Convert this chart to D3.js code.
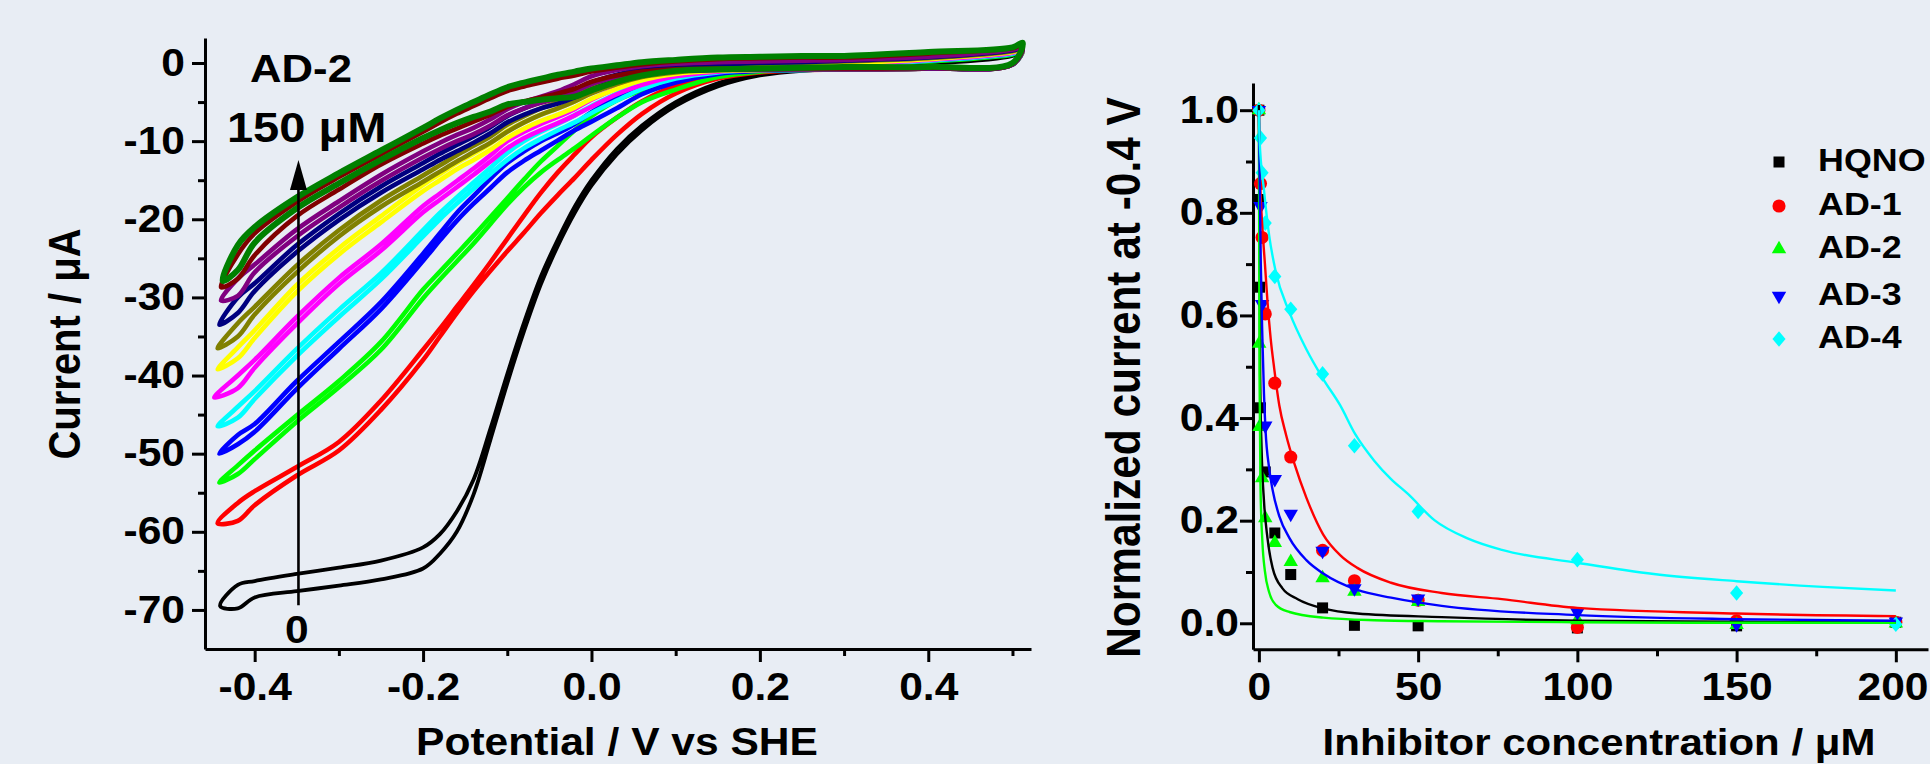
<!DOCTYPE html>
<html>
<head>
<meta charset="utf-8">
<script src="https://cdn.jsdelivr.net/npm/d3@7"></script>
<style>
  html, body { margin: 0; padding: 0; background: #e8edf4; }
  svg { display: block; }
  text { font-family: "Liberation Sans", Arial, sans-serif; font-weight: bold; fill: #000; }
</style>
</head>
<body>
<svg id="chart" width="1930" height="764"></svg>
<script>
// ---------- left panel: cyclic voltammograms (AD-2, 0 -> 150 uM) ----------
const potential = [-0.42, -0.40, -0.35, -0.30, -0.25, -0.20, -0.18, -0.16, -0.14, -0.12, -0.10, -0.08, -0.06,
                   -0.04, -0.02, 0.00, 0.03, 0.06, 0.10, 0.15, 0.20, 0.25, 0.30, 0.40, 0.50];

const blackHi = [-66.8, -66.3, -65.4, -64.6, -63.7, -62.0, -60.3, -57.4, -53.3, -46.8, -39.8, -33.2, -27.3, -22.6, -18.4, -15.0, -11.0, -8.0, -5.0, -2.6, -1.3, -0.7, -0.4, -0.1, 0.9];
const blackLo = [-69.8, -68.4, -67.6, -66.9, -66.1, -64.7, -62.8, -60.0, -55.2, -48.2, -41.0, -34.3, -28.3, -23.4, -19.2, -15.7, -11.7, -8.6, -5.5, -3.0, -1.6, -1.0, -0.8, -0.7, -0.1];
const redHi = [-56.3, -54.8, -51.7, -48.5, -43.2, -36.7, -34.0, -31.2, -28.4, -25.5, -22.5, -19.5, -16.6, -14.0, -11.7, -9.5, -7.0, -4.9, -2.9, -1.6, -0.9, -0.5, -0.2, 0.3, 1.2];
const redLo = [-58.6, -56.6, -52.8, -49.6, -44.4, -38.0, -35.0, -32.0, -29.2, -26.6, -24.1, -21.7, -19.2, -16.9, -14.7, -12.4, -9.2, -6.5, -3.9, -2.0, -1.2, -0.9, -0.8, -0.7, -0.2];
const greenHi = [-51.5, -49.6, -45.1, -40.7, -35.7, -29.0, -26.7, -24.4, -22.1, -19.7, -17.3, -14.9, -12.6, -10.6, -8.6, -6.8, -4.8, -3.5, -2.3, -1.3, -0.8, -0.5, -0.3, 0.2, 1.1];
const greenLo = [-52.6, -50.7, -45.9, -41.5, -36.7, -30.1, -27.7, -25.4, -23.1, -20.6, -18.1, -15.9, -14.0, -12.4, -10.9, -9.3, -7.0, -5.0, -3.4, -1.8, -1.1, -0.9, -0.8, -0.7, -0.2];
const blueHi = [-47.6, -46.2, -40.7, -35.7, -30.6, -24.4, -21.8, -19.2, -17.0, -14.8, -12.8, -11.3, -10.0, -9.0, -7.8, -6.3, -4.4, -2.9, -1.8, -1.1, -0.7, -0.4, -0.2, 0.3, 1.2];
const blueLo = [-48.8, -47.2, -41.7, -36.6, -31.5, -25.3, -22.7, -20.2, -18.0, -16.0, -14.0, -12.5, -11.2, -9.9, -8.6, -7.5, -5.8, -4.0, -2.5, -1.4, -1.0, -0.9, -0.8, -0.7, -0.2];
const cyanHi = [-44.0, -42.0, -36.6, -31.6, -26.9, -21.4, -19.2, -17.2, -15.3, -13.4, -11.5, -10.0, -8.8, -7.8, -6.7, -5.5, -3.9, -2.4, -1.5, -0.9, -0.6, -0.4, -0.2, 0.3, 1.2];
const cyanLo = [-45.4, -43.0, -37.5, -32.5, -27.7, -22.2, -20.0, -18.0, -16.1, -14.2, -12.4, -10.9, -9.7, -8.6, -7.6, -6.4, -4.8, -3.3, -2.0, -1.2, -0.9, -0.9, -0.8, -0.7, -0.2];
const magentaHi = [-40.0, -38.0, -32.5, -27.5, -23.2, -18.3, -16.7, -15.1, -13.5, -11.8, -10.0, -8.8, -7.8, -6.9, -5.9, -4.7, -3.2, -2.0, -1.2, -0.8, -0.5, -0.3, -0.1, 0.4, 1.3];
const magentaLo = [-41.6, -39.0, -33.4, -28.3, -24.0, -19.1, -17.5, -15.9, -14.3, -12.6, -10.9, -9.6, -8.6, -7.7, -6.7, -5.6, -4.0, -2.8, -1.7, -1.1, -0.9, -0.8, -0.8, -0.7, -0.2];
const yellowHi = [-36.4, -34.2, -28.4, -23.7, -19.6, -15.6, -14.2, -12.8, -11.6, -10.3, -8.7, -7.6, -6.6, -5.8, -4.9, -3.8, -2.6, -1.6, -1.0, -0.6, -0.4, -0.2, 0.0, 0.5, 1.4];
const yellowLo = [-37.8, -35.2, -29.3, -24.5, -20.4, -16.4, -15.0, -13.6, -12.4, -11.1, -9.6, -8.4, -7.4, -6.6, -5.7, -4.6, -3.3, -2.2, -1.4, -1.0, -0.9, -0.8, -0.8, -0.7, -0.2];
const oliveHi = [-33.3, -31.2, -25.9, -21.4, -17.6, -14.4, -13.1, -11.8, -10.6, -9.4, -7.9, -6.8, -5.8, -5.0, -4.1, -3.1, -2.0, -1.2, -0.7, -0.4, -0.2, 0.0, 0.2, 0.6, 1.5];
const oliveLo = [-35.0, -32.2, -26.8, -22.2, -18.4, -15.2, -13.9, -12.6, -11.4, -10.2, -8.8, -7.6, -6.6, -5.8, -4.9, -3.9, -2.7, -1.8, -1.2, -0.9, -0.9, -0.8, -0.8, -0.7, -0.2];
const navyHi = [-30.0, -28.2, -23.3, -19.3, -15.8, -12.8, -11.6, -10.5, -9.4, -8.2, -6.8, -5.8, -5.0, -4.4, -3.6, -2.5, -1.5, -0.8, -0.4, -0.2, 0.0, 0.1, 0.3, 0.7, 1.6];
const navyLo = [-32.0, -29.2, -24.2, -20.1, -16.6, -13.6, -12.4, -11.3, -10.2, -9.0, -7.6, -6.6, -5.8, -5.2, -4.4, -3.4, -2.3, -1.5, -1.0, -0.9, -0.8, -0.8, -0.8, -0.7, -0.2];
const purpleHi = [-27.6, -25.8, -21.3, -17.7, -14.3, -11.3, -10.2, -9.2, -8.3, -7.2, -5.9, -5.0, -4.3, -3.6, -2.7, -1.7, -0.9, -0.4, -0.1, 0.1, 0.2, 0.3, 0.4, 0.8, 1.7];
const purpleLo = [-29.8, -26.8, -22.2, -18.5, -15.1, -12.1, -11.0, -10.0, -9.1, -8.0, -6.7, -5.8, -5.1, -4.5, -3.7, -2.7, -1.8, -1.2, -0.9, -0.8, -0.8, -0.8, -0.8, -0.7, -0.2];
const wineHi = [-24.5, -21.8, -17.8, -14.6, -11.7, -8.8, -7.6, -6.5, -5.5, -4.5, -3.6, -3.0, -2.5, -2.0, -1.6, -1.1, -0.6, -0.2, 0.2, 0.5, 0.6, 0.7, 0.7, 1.2, 1.9];
const wineLo = [-27.6, -24.6, -19.6, -16.2, -13.0, -10.3, -9.3, -8.4, -7.5, -6.6, -5.6, -4.9, -4.4, -3.9, -3.3, -2.4, -1.6, -1.1, -0.8, -0.7, -0.7, -0.7, -0.7, -0.6, -0.1];
const dkgreenHi = [-23.3, -21.0, -17.2, -14.1, -11.2, -8.3, -7.1, -6.0, -5.0, -4.0, -3.1, -2.5, -2.0, -1.5, -1.1, -0.7, -0.3, 0.1, 0.4, 0.7, 0.8, 0.9, 0.9, 1.4, 2.0];
const dkgreenLo = [-26.5, -23.0, -18.6, -15.4, -12.4, -9.6, -8.6, -7.7, -6.9, -6.2, -5.3, -5.0, -4.7, -4.5, -4.3, -3.5, -2.4, -1.6, -1.0, -0.8, -0.7, -0.6, -0.5, -0.5, 0.0];

const cvColors = ["#000000", "#ff0000", "#00ff00", "#0000ff", "#00ffff", "#ff00ff",
                  "#ffff00", "#808000", "#000080", "#800080", "#800000", "#008000"];
const cvHi = [blackHi, redHi, greenHi, blueHi, cyanHi, magentaHi, yellowHi, oliveHi, navyHi, purpleHi, wineHi, dkgreenHi];
const cvLo = [blackLo, redLo, greenLo, blueLo, cyanLo, magentaLo, yellowLo, oliveLo, navyLo, purpleLo, wineLo, dkgreenLo];
const tipLeftV = [-0.441, -0.444, -0.442, -0.442, -0.444, -0.448, -0.444, -0.444, -0.442, -0.440, -0.440, -0.438];
const tipLeftI = [-69.5, -58.9, -53.7, -50.0, -46.5, -42.8, -39.2, -36.5, -33.5, -30.4, -28.7, -27.9];
const tipRightV = 0.512;
const tipRightI = [1.6, 1.6, 1.6, 1.7, 1.7, 1.8, 1.8, 1.9, 1.9, 2.0, 2.2, 2.6];

const leftXMajor = [-0.4, -0.2, 0.0, 0.2, 0.4];
const leftXMinor = [-0.3, -0.1, 0.1, 0.3, 0.5];
const leftYMajor = [0, -10, -20, -30, -40, -50, -60, -70];
const leftYMinor = [-5, -15, -25, -35, -45, -55, -65];

// arrow annotation (potential, from current, to current)
const arrowV = -0.348, arrowFrom = -69.4, arrowTo = -12.4;

// ---------- right panel: normalized current vs inhibitor concentration ----------
const seriesNames = ["HQNO", "AD-1", "AD-2", "AD-3", "AD-4"];
const seriesColors = ["#000000", "#ff0000", "#00ff00", "#0000ff", "#00ffff"];

const hqnoConc = [0, 0.1, 0.2, 0.5, 2, 5, 10, 20, 30, 50, 100, 150, 200];
const hqnoVal  = [1.0, 0.826, 0.655, 0.42, 0.295, 0.176, 0.095, 0.030, -0.004, -0.005, -0.009, -0.005, 0.002];
const ad1Conc = [0, 0.5, 1, 2, 5, 10, 20, 30, 50, 100, 150, 200];
const ad1Val  = [1.0, 0.857, 0.752, 0.603, 0.468, 0.324, 0.142, 0.083, 0.045, -0.008, 0.005, 0.002];
const ad2Conc = [0, 0.1, 0.2, 1, 2, 5, 10, 20, 30, 50, 100, 150, 200];
const ad2Val  = [1.0, 0.545, 0.383, 0.283, 0.205, 0.157, 0.12, 0.088, 0.062, 0.042, 0.006, -0.003, 0.0];
const ad3Conc = [0, 0.5, 1, 2, 5, 10, 20, 30, 50, 100, 150, 200];
const ad3Val  = [1.0, 0.813, 0.622, 0.385, 0.281, 0.213, 0.141, 0.068, 0.048, 0.021, -0.002, 0.003];
const ad4Conc = [0, 0.5, 1, 2, 5, 10, 20, 30, 50, 100, 150, 200];
const ad4Val  = [1.0, 0.946, 0.878, 0.78, 0.676, 0.612, 0.486, 0.346, 0.218, 0.124, 0.059, -0.002];

// fitted curves
const hqnoFitC = [0, 0.2, 0.4, 0.85, 1.6, 2.7, 4.3, 7.4, 12.2, 20.2, 30.9, 57.4, 100, 150, 200];
const hqnoFitV = [1.01, 0.771, 0.483, 0.339, 0.238, 0.166, 0.108, 0.068, 0.047, 0.029, 0.019, 0.012, 0.005, 0.003, 0.002];
const ad1FitC = [0, 0.2, 0.5, 1.1, 1.9, 2.7, 3.7, 4.8, 6.4, 8.5, 11.2, 14.9, 20.2, 25.5, 30.9, 41.5, 57.4, 76.3, 100, 150, 200];
const ad1FitV = [1.0, 0.916, 0.844, 0.771, 0.70, 0.627, 0.555, 0.497, 0.425, 0.368, 0.31, 0.245, 0.173, 0.133, 0.108, 0.079, 0.059, 0.047, 0.030, 0.019, 0.014];
const ad2FitC = [0, 0.2, 0.5, 1.1, 1.9, 3.2, 5.3, 9.6, 20.2, 36.2, 57.4, 100, 150, 200];
const ad2FitV = [1.0, 0.483, 0.267, 0.159, 0.101, 0.061, 0.036, 0.022, 0.011, 0.006, 0.004, 0.002, 0.001, 0.001];
const ad3FitC = [0, 0.3, 0.6, 1.1, 1.6, 2.1, 3.2, 4.3, 6.4, 9.6, 14.9, 20.2, 30.9, 41.5, 57.4, 100, 150, 200];
const ad3FitV = [1.0, 0.844, 0.70, 0.555, 0.447, 0.375, 0.303, 0.26, 0.209, 0.166, 0.123, 0.097, 0.065, 0.05, 0.034, 0.016, 0.008, 0.005];
const ad4FitC = [0, 0.2, 1.6, 3.2, 5.3, 9.6, 14.9, 20.2, 25.5, 30.3, 36.2, 41.5, 46.8, 55.1, 65.7, 76.3, 100, 124, 150, 177, 200];
const ad4FitV = [1.0, 0.944, 0.844, 0.757, 0.685, 0.606, 0.534, 0.476, 0.425, 0.368, 0.317, 0.281, 0.252, 0.201, 0.165, 0.143, 0.118, 0.096, 0.082, 0.071, 0.064];

const rightXMajor = [0, 50, 100, 150, 200];
const rightXMinor = [25, 75, 125, 175];
const rightYMajor = [0, 0.2, 0.4, 0.6, 0.8, 1.0];
const rightYMinor = [0.1, 0.3, 0.5, 0.7, 0.9];

// ---------- drawing ----------
const STRETCH = 1.12;   // the figure's lettering is a bit wide
const svg = d3.select("#chart");

const xL = d3.scaleLinear().domain([-0.459, 0.522]).range([205, 1031]);
const yL = d3.scaleLinear().domain([-75, 3.2]).range([649, 38]);
const xR = d3.scaleLinear().domain([-1.85, 210.1]).range([1253, 1928]);
const yR = d3.scaleLinear().domain([-0.0507, 1.053]).range([649.3, 83]);

function addText(str, x, y, size, anchor, rot) {
  return svg.append("text")
    .attr("transform", "translate(" + x + "," + y + ") scale(" + STRETCH + ",1)" + (rot ? " rotate(" + rot + ")" : ""))
    .attr("text-anchor", anchor)
    .style("font-size", size + "px")
    .text(str);
}

function drawAxis(axisMaj, axisMin, pos) {
  const gMin = svg.append("g").attr("transform", pos).call(axisMin);
  gMin.select(".domain").remove();
  gMin.selectAll(".tick line").attr("stroke", "#000").attr("stroke-width", 3);
  const g = svg.append("g").attr("transform", pos).call(axisMaj);
  g.attr("font-size", null).attr("font-family", null);
  g.select(".domain").attr("stroke", "#000").attr("stroke-width", 3);
  g.selectAll(".tick line").attr("stroke", "#000").attr("stroke-width", 3);
  g.selectAll(".tick text").style("font-size", "38px").attr("fill", "#000").each(function() {
    const t = d3.select(this);
    t.attr("x", (+t.attr("x") || 0) / STRETCH).attr("transform", "scale(" + STRETCH + ",1)");
  });
  return g;
}

const fmt1 = d => d.toFixed(1);

// left axes
drawAxis(d3.axisBottom(xL).tickValues(leftXMajor).tickFormat(fmt1).tickSize(13).tickSizeOuter(0).tickPadding(11),
         d3.axisBottom(xL).tickValues(leftXMinor).tickFormat("").tickSize(7).tickSizeOuter(0),
         "translate(0,649)");
drawAxis(d3.axisLeft(yL).tickValues(leftYMajor).tickFormat(d => String(d)).tickSize(13).tickSizeOuter(0).tickPadding(7),
         d3.axisLeft(yL).tickValues(leftYMinor).tickFormat("").tickSize(7).tickSizeOuter(0),
         "translate(205,0)");

// CV loops
const cvLine = d3.line().x(d => xL(d[0])).y(d => yL(d[1])).curve(d3.curveCatmullRomClosed.alpha(0.5));
cvColors.forEach((col, i) => {
  const pts = [[tipRightV, tipRightI[i]]];
  for (let k = potential.length - 1; k >= 0; k--) pts.push([potential[k], cvLo[i][k]]);
  pts.push([tipLeftV[i], tipLeftI[i]]);
  for (let k = 0; k < potential.length; k++) pts.push([potential[k], cvHi[i][k]]);
  const w = i === 0 ? 3.8 : (i === cvColors.length - 1 ? 6 : 4.6);
  svg.append("path")
    .attr("d", cvLine(pts))
    .attr("fill", "none")
    .attr("stroke", col)
    .attr("stroke-width", w)
    .attr("stroke-linejoin", "round");
});

// arrow
const ax = xL(arrowV), aTip = yL(arrowTo);
svg.append("line").attr("x1", ax).attr("x2", ax).attr("y1", yL(arrowFrom)).attr("y2", aTip + 25)
  .attr("stroke", "#000").attr("stroke-width", 2.6);
svg.append("path").attr("d", `M${ax},${aTip}L${ax - 8.5},${aTip + 30}L${ax + 8.5},${aTip + 30}Z`).attr("fill", "#000");

addText("AD-2", xL(-0.4055), yL(-2.45), 39, "start");
addText("150 \u03bcM", xL(-0.433), yL(-10.1), 42, "start");
addText("0", xL(-0.35), yL(-74.2), 38, "middle");

addText("Potential / V vs SHE", 617, 755, 38, "middle");
addText("Current / \u03bcA", 80, 344, 40, "middle", -90);

// right axes
const gRX = drawAxis(d3.axisBottom(xR).tickValues(rightXMajor).tickFormat(d => String(d)).tickSize(13).tickSizeOuter(0).tickPadding(11),
         d3.axisBottom(xR).tickValues(rightXMinor).tickFormat("").tickSize(7).tickSizeOuter(0),
         "translate(0,649.3)");
// keep the last label inside the page
gRX.selectAll(".tick text").filter(d => d === 200).attr("x", -3);
drawAxis(d3.axisLeft(yR).tickValues(rightYMajor).tickFormat(fmt1).tickSize(13).tickSizeOuter(0).tickPadding(1),
         d3.axisLeft(yR).tickValues(rightYMinor).tickFormat("").tickSize(7).tickSizeOuter(0),
         "translate(1253,0)");

const diamond = {
  draw(ctx, size) {
    const h = Math.sqrt(size / 0.84), w = h * 0.84;
    ctx.moveTo(0, -h / 2); ctx.lineTo(w / 2, 0); ctx.lineTo(0, h / 2); ctx.lineTo(-w / 2, 0); ctx.closePath();
  }
};
const symbols = [
  d3.symbol(d3.symbolSquare, 121),
  d3.symbol(d3.symbolCircle, 135),
  d3.symbol(d3.symbolTriangle, 90),
  d3.symbol(d3.symbolTriangle, 90),
  d3.symbol(diamond, 205)
];
const symRotate = [0, 0, 0, 180, 0];

const concs = [hqnoConc, ad1Conc, ad2Conc, ad3Conc, ad4Conc];
const vals = [hqnoVal, ad1Val, ad2Val, ad3Val, ad4Val];
const fitC = [hqnoFitC, ad1FitC, ad2FitC, ad3FitC, ad4FitC];
const fitV = [hqnoFitV, ad1FitV, ad2FitV, ad3FitV, ad4FitV];

seriesNames.forEach((name, i) => {
  svg.append("g").selectAll("path")
    .data(concs[i].map((c, k) => [c, vals[i][k]]))
    .join("path")
    .attr("d", symbols[i])
    .attr("transform", d => `translate(${xR(d[0])},${yR(d[1])}) rotate(${symRotate[i]})`)
    .attr("fill", seriesColors[i]);
});

const fitLine = d3.line().x(d => xR(d[0])).y(d => yR(d[1])).curve(d3.curveMonotoneX);
seriesNames.forEach((name, i) => {
  svg.append("path")
    .attr("d", fitLine(fitC[i].map((c, k) => [c, fitV[i][k]])))
    .attr("fill", "none")
    .attr("stroke", seriesColors[i])
    .attr("stroke-width", 2.4);
});

// legend
const legendY = [162, 206, 249, 296, 339];
seriesNames.forEach((name, i) => {
  svg.append("path").attr("d", symbols[i])
    .attr("transform", `translate(1779,${legendY[i]}) rotate(${symRotate[i]})`)
    .attr("fill", seriesColors[i]);
  addText(name, 1818, legendY[i] + 9, 32, "start");
});

addText("Inhibitor concentration / \u03bcM", 1599, 755, 37.5, "middle");
addText("Normalized current at -0.4 V", 1140, 377.5, 42.4, "middle", -90);
</script>
</body>
</html>
